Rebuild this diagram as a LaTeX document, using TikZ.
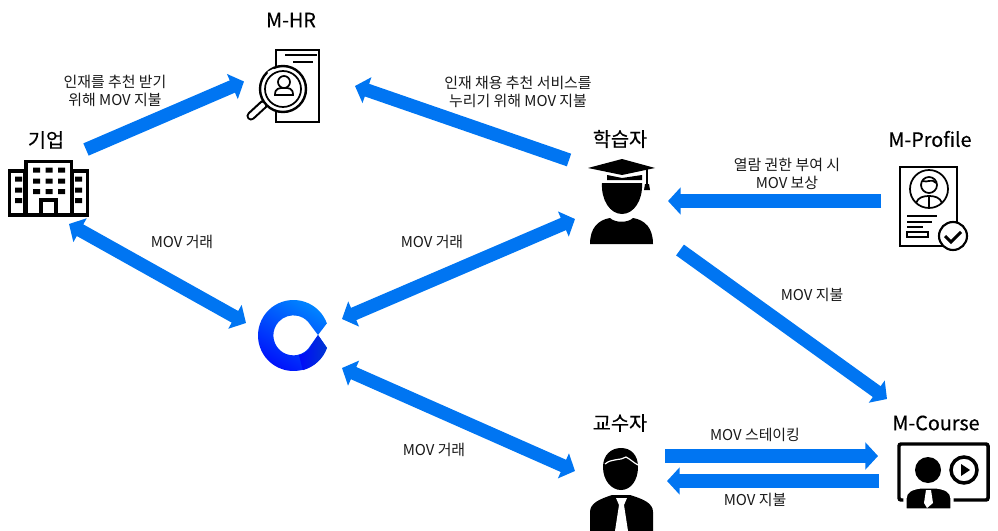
\documentclass[tikz,border=0pt]{standalone}
\usepackage{fontspec}
\setmainfont{Noto Sans CJK KR}
\newfontfamily\headfont[FakeBold=0.35]{Noto Sans CJK KR}
\usetikzlibrary{arrows.meta}

\definecolor{movblue}{RGB}{0,117,242}
\definecolor{logolow}{RGB}{0,10,250}
\definecolor{logohigh}{RGB}{0,135,255}
\definecolor{logodark}{RGB}{0,55,210}
\tikzset{every picture/.style={line width=0.75pt}}
\tikzset{
  moveArrow/.style={draw=movblue,line width=10pt,-{Triangle[length=9.5pt,width=20pt]}},
  bothArrow/.style={draw=movblue,line width=10pt,{Triangle[length=9.5pt,width=20pt]}-{Triangle[length=9.5pt,width=20pt]}},
  headLabel/.style={font=\headfont\fontsize{14.8}{17}\selectfont,inner sep=0.75pt,align=center},
  moveLabel/.style={font=\fontsize{11.2}{13.6}\selectfont,inner sep=0.75pt,align=center,text=black!90},
  iconLine/.style={draw=black,line width=1.8pt,fill=white},
  thickLine/.style={draw=black,line width=2.7pt,fill=white},
  thinLine/.style={draw=black,line width=1.3pt}
}

\begin{document}
\begin{tikzpicture}[x=0.75pt,y=0.75pt,yscale=-1,xscale=1]
\useasboundingbox (0,0) rectangle (998,531);

%Shape: building
\draw [thickLine] (9.5,171) rectangle (25,215);
\draw [thickLine] (72,171) rectangle (87.5,215);
\draw [thickLine] (26,161.5) rectangle (71.5,215);
\draw [thickLine] (41,200) rectangle (56,215);
\fill (33,167.5) rectangle (40,172.5) (45.5,167.5) rectangle (52.5,172.5) (58,167.5) rectangle (65,172.5);
\fill (33,178.5) rectangle (40,183.5) (45.5,178.5) rectangle (52.5,183.5) (58,178.5) rectangle (65,183.5);
\fill (33,189) rectangle (40,194) (45.5,189) rectangle (52.5,194) (58,189) rectangle (65,194);
\fill (15,176.5) rectangle (22,181.5) (15,187.5) rectangle (22,192.5) (15,198) rectangle (22,203);
\fill (75,176.5) rectangle (82,181.5) (75,187.5) rectangle (82,192.5) (75,198) rectangle (82,203);

%Shape: document with magnifier
\draw [iconLine] (276,50) rectangle (319,122);
\draw [thinLine] (285,55) -- (317,55) ;
\draw [thinLine] (293,62) -- (313,62) ;
\draw [draw=black,line width=6.8pt,line cap=round] (264,104) -- (251,116) ;
\draw [draw=white,line width=3.6pt,line cap=round] (263,105) -- (251,116) ;
\draw [iconLine] (283,89) circle [radius=23];
\draw [thinLine] (283,89) circle [radius=18];
\draw [draw=white,line width=2pt] (268,73) -- (274,70) ;
\draw [thinLine] (284,82) circle [radius=6];
\draw [thinLine] (275,95) .. controls (275,88) and (279,88) .. (284,88) .. controls (289,88) and (293,88) .. (293,95) -- cycle ;

%Shape: graduate
\fill (588,168) -- (622,159) -- (655,168) -- (622,175) -- cycle ;
\fill (607,175) -- (622,178) -- (642,175) -- (642,180) -- (607,180) -- cycle ;
\draw [draw=black,line width=1.3pt] (647,168) -- (647,186) ;
\fill (644,190) -- (645,184) -- (649,184) -- (650,190) -- cycle ;
\fill (602,183) -- (642,183) .. controls (643,200) and (634,214) .. (622,214) .. controls (610,214) and (601,200) .. (602,183) -- cycle ;
\fill (590,244) .. controls (590,228) and (598,220) .. (610,218) .. controls (615,223) and (628,223) .. (633,218) .. controls (645,220) and (653,228) .. (653,244) -- cycle ;

%Shape: profile sheet
\draw [iconLine,line width=1.5pt] (900,167) rectangle (957,246);
\draw [thinLine] (929,189) circle [radius=19];
\draw [thinLine] (929,185) circle [radius=8];
\draw [thinLine] (916,203) .. controls (918,197) and (924,196) .. (929,196) .. controls (934,196) and (940,197) .. (942,203) ;
\draw [thinLine] (922,181) .. controls (928,183) and (932,178) .. (936,183) ;
\draw [thinLine] (929,196) -- (929,207) ;
\draw [thinLine] (907,216) -- (937,216) ;
\draw [thinLine] (907,222) -- (932,222) ;
\draw [thinLine] (907,227) -- (923,227) ;
\draw [thinLine] (907,232) rectangle (928,237);
\draw [iconLine,line width=1.6pt] (953,236) circle [radius=14];
\draw [draw=black,line width=2.2pt] (945,236) -- (951,242) -- (961,232) ;

%Shape: logo ring
\path [shade,bottom color=logolow,top color=logohigh,shading angle=-30] (293.5,335.5) ++(-20:35.5) arc [start angle=-20,end angle=-340,radius=35.5] -- (318,335) -- (308,349) arc [start angle=43,end angle=317,radius=20] -- (318,335) -- cycle ;
\path [shade,left color=logolow,right color=logodark] (318,335) -- (327,348) arc [start angle=20,end angle=75,radius=35.5] -- (299,355.3) arc [start angle=75,end angle=43,radius=20] -- cycle ;

%Shape: lecturer
\fill (603,467) .. controls (603,455) and (611,448) .. (621,448) .. controls (631,448) and (638,455) .. (638,467) .. controls (638,480) and (631,490) .. (621,490) .. controls (611,490) and (603,480) .. (603,467) -- cycle ;
\draw [draw=white,line width=0.9pt] (605,464) .. controls (612,458) and (620,461) .. (626,457) .. controls (630,459) and (634,463) .. (638,465) ;
\fill (590,531) -- (590,512) .. controls (590,503) and (600,499) .. (612,495) -- (630,495) .. controls (643,499) and (653,503) .. (653,512) -- (653,531) -- cycle ;
\fill [white] (616,498) -- (627,498) -- (624,505) -- (628,531) -- (615,531) -- (619,505) -- cycle ;

%Shape: course screen
\draw [draw=black,line width=2.6pt,rounded corners=1.5pt] (899,500) -- (899,444) -- (988,444) -- (988,500) -- cycle ;
\fill (928,470) circle [radius=13];
\draw [draw=white,fill=black,line width=2.5pt] (905,510) -- (905,498) .. controls (905,491) and (912,488) .. (920,487) -- (937,487) .. controls (945,488) and (952,491) .. (952,498) -- (952,510) -- cycle ;
\fill [white] (926,490) -- (931,490) -- (933,503) -- (927,508) -- (924,503) -- cycle ;
\draw [draw=black,line width=2.6pt] (964,470) circle [radius=13];
\fill (961,464) -- (970,470) -- (961,476) -- cycle ;

% Text Node
\node [headLabel] (firmHead) at (46,140) {기업};
\node [headLabel] (hrHead) at (291,20) {M-HR};
\node [headLabel] (learnerHead) at (620,139) {학습자};
\node [headLabel] (profileHead) at (930,139) {M-Profile};
\node [headLabel] (lecturerHead) at (620,423) {교수자};
\node [headLabel] (courseHead) at (936,423) {M-Course};
% Text Node
\node [moveLabel] (firmPay) at (115,91) {인재를 추천 받기\\위해 MOV 지불};
\node [moveLabel] (learnerPay) at (518,92) {인재 채용 추천 서비스를\\누리기 위해 MOV 지불};
\node [moveLabel] (profileReward) at (787,174) {열람 권한 부여 시\\MOV 보상};
\node [moveLabel] (firmTrade) at (182,242) {MOV 거래};
\node [moveLabel] (learnerTrade) at (432,242) {MOV 거래};
\node [moveLabel] (lecturerTrade) at (434,450) {MOV 거래};
\node [moveLabel] (coursePay) at (812,295) {MOV 지불};
\node [moveLabel] (courseStake) at (755,435) {MOV 스테이킹};
\node [moveLabel] (lecturerPay) at (755,500) {MOV 지불};

%Arrow ends
\coordinate (firmToHr) at (86,149.5);
\coordinate (hrFromFirm) at (244,81.5);
\coordinate (learnerToHr) at (569,160);
\coordinate (hrFromLearner) at (355,86);
\coordinate (profileOut) at (881,201);
\coordinate (learnerIn) at (668,201);
\coordinate (learnerOut) at (680,250);
\coordinate (courseIn) at (887,399);
\coordinate (firmTrd) at (69,224);
\coordinate (logoFirm) at (246,323);
\coordinate (logoLearner) at (342,319);
\coordinate (learnerTrd) at (575,219);
\coordinate (logoLecturer) at (342,368);
\coordinate (lecturerTrd) at (575,471);
\coordinate (lecturerOut) at (665,456);
\coordinate (courseStk) at (878,456);
\coordinate (courseOut) at (879,481);
\coordinate (lecturerIn) at (667,481);

%Straight Lines
\draw [moveArrow] (firmToHr) -- (hrFromFirm) ;
\draw [moveArrow] (learnerToHr) -- (hrFromLearner) ;
\draw [moveArrow] (profileOut) -- (learnerIn) ;
\draw [moveArrow] (learnerOut) -- (courseIn) ;
\draw [bothArrow] (firmTrd) -- (logoFirm) ;
\draw [bothArrow] (logoLearner) -- (learnerTrd) ;
\draw [bothArrow] (logoLecturer) -- (lecturerTrd) ;
\draw [moveArrow] (lecturerOut) -- (courseStk) ;
\draw [moveArrow] (courseOut) -- (lecturerIn) ;

\end{tikzpicture}
\end{document}
